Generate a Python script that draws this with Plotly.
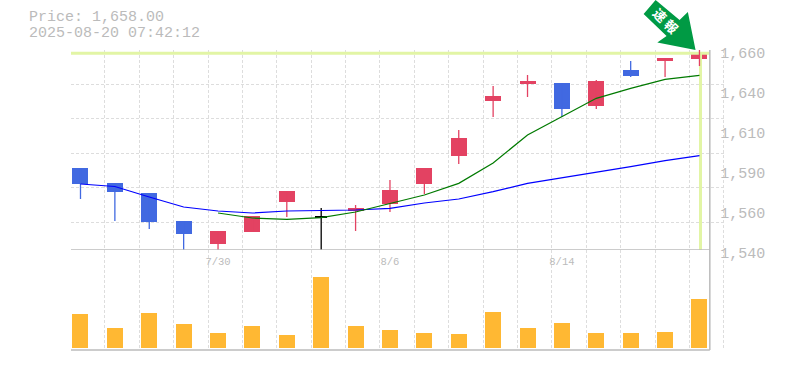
import plotly.graph_objects as go

dates = ["7/30", "8/6", "8/14"]
date_idx = [4, 9, 14]
price_ticks = [1660, 1636, 1612, 1588, 1564, 1540]
price_labels = ["1,660", "1,640", "1,610", "1,590", "1,560", "1,540"]
body_top = [1589.2, 1580.2, 1574.2, 1557.4, 1551.4, 1560.4, 1575.4, 1560.4, 1565.2, 1576.0, 1589.2, 1607.2, 1632.4, 1641.4, 1640.2, 1641.4, 1648.0, 1655.2, 1658.2]
body_bot = [1579.6, 1574.8, 1556.8, 1549.6, 1543.6, 1550.8, 1568.8, 1559.2, 1563.4, 1567.6, 1579.6, 1596.4, 1629.4, 1639.6, 1624.6, 1626.4, 1644.4, 1653.4, 1654.6]
wick_high = [1589.2, 1580.2, 1574.2, 1557.4, 1551.4, 1560.4, 1575.4, 1565.2, 1567.0, 1582.0, 1589.2, 1612.0, 1638.4, 1645.0, 1640.2, 1642.0, 1653.4, 1655.2, 1660.0]
wick_low = [1570.6, 1557.4, 1552.6, 1530.0, 1530.0, 1550.8, 1559.8, 1530.0, 1551.4, 1562.8, 1573.6, 1591.6, 1619.8, 1631.8, 1619.8, 1624.6, 1643.8, 1643.8, 1650.4]
is_up = [False, False, False, False, True, True, True, None, True, True, True, True, True, True, False, True, False, True, True]
ma_blue = [1579.6, 1578.1, 1571.8, 1565.8, 1563.4, 1562.2, 1563.4, 1563.7, 1564.0, 1565.0, 1568.2, 1570.6, 1575.0, 1580.0, 1583.2, 1586.4, 1590.0, 1593.6, 1596.6]
ma_green = [None, None, None, None, 1562.2, 1559.2, 1558.4, 1559.4, 1562.8, 1568.0, 1573.0, 1580.0, 1592.2, 1609.0, 1619.8, 1631.0, 1637.0, 1642.4, 1644.8]
volume = [34, 20, 35, 24, 15, 22, 13, 71, 22, 18, 15, 14, 36, 20, 25, 15, 15, 16, 49]
last_price = 1658.0
indices = list(range(len(volume)))

BLUE, RED, BLACK = "#4169E1", "#E34262", "#000000"
GRAY, GRID, LIME = "#BBBBBB", "#DDDDDD", "#E2F5A5"
ARROW = "#009A44"
FONT = "Liberation Mono"

PX = 34.44
X0 = -(80 - 70.5) / PX
XR = [X0, (725.5 - 80) / PX]
AXIS_RIGHT = (710.3 - 80) / PX
grid_x = [X0 - 0.5 / PX + k for k in range(20)]
YR = [1540, 1660]
grid_y = [1660 - 20.66 * k for k in range(6)]

L, R, T, B = 70.5, 725.5, 50, 350


def pxx(x):
    return (x - L) / (R - L)


def pxy(y):
    return (B - y) / (B - T)


fig = go.Figure()


def color_of(flag):
    return BLACK if flag is None else (RED if flag else BLUE)


fig.add_trace(go.Scatter(x=[X0, AXIS_RIGHT], y=[last_price, last_price], mode="lines",
                         line=dict(color=LIME, width=3), xaxis="x", yaxis="y", hoverinfo="skip"))
fig.add_trace(go.Scatter(x=[indices[-1] + 0.03, indices[-1] + 0.03], y=[last_price, YR[0]], mode="lines",
                         line=dict(color=LIME, width=3), xaxis="x", yaxis="y", hoverinfo="skip"))
for i in indices:
    fig.add_trace(go.Scatter(x=[i, i], y=[wick_low[i], wick_high[i]], mode="lines",
                             line=dict(color=color_of(is_up[i]), width=1.3), xaxis="x", yaxis="y",
                             hoverinfo="skip"))
fig.add_trace(go.Bar(x=indices, y=[t - b for t, b in zip(body_top, body_bot)], base=body_bot,
                     width=[0.35 if u is None else 0.465 for u in is_up],
                     marker=dict(color=[color_of(u) for u in is_up], line=dict(width=0)),
                     xaxis="x", yaxis="y"))
fig.add_trace(go.Scatter(x=indices, y=ma_blue, mode="lines", line=dict(color="#0000FF", width=1.2),
                         xaxis="x", yaxis="y"))
fig.add_trace(go.Scatter(x=indices, y=ma_green, mode="lines", line=dict(color="#007A00", width=1.2),
                         xaxis="x", yaxis="y"))
fig.add_trace(go.Bar(x=indices, y=volume, width=0.465, marker=dict(color="#FFB833", line=dict(width=0)),
                     xaxis="x2", yaxis="y2"))
# invisible carriers for the label-only axes
fig.add_trace(go.Scatter(x=[0], y=[1600], mode="markers", marker=dict(opacity=0), xaxis="x3", yaxis="y3", hoverinfo="skip"))
fig.add_trace(go.Scatter(x=[0], y=[1600], mode="markers", marker=dict(opacity=0), xaxis="x4", yaxis="y4", hoverinfo="skip"))

grid_axis = dict(range=XR, domain=[0, 1], tickmode="array", tickvals=grid_x, showticklabels=False,
                 ticks="", showgrid=True, gridcolor=GRID, griddash="3px,2px", zeroline=False, showline=False)
hidden = dict(showticklabels=False, ticks="", showgrid=False, zeroline=False, showline=False)

fig.update_layout(
    width=785, height=370, showlegend=False, plot_bgcolor="rgba(0,0,0,0)", paper_bgcolor="white",
    margin=dict(l=L, r=785 - R, t=T, b=370 - B),
    barmode="overlay", bargap=0,
    xaxis=dict(anchor="y", **grid_axis),
    xaxis2=dict(anchor="y2", **grid_axis),
    yaxis=dict(range=YR, domain=[1 / 3, 1], anchor="x", tickmode="array", tickvals=grid_y,
               showticklabels=False, ticks="", showgrid=True, gridcolor=GRID, griddash="3px,2px",
               zeroline=False, showline=False),
    yaxis2=dict(range=[-2, 98], domain=[0, 1 / 3], anchor="x2", **hidden),
    # price labels sit 3 px below their true level and start at x=720 in the reference
    xaxis3=dict(range=XR, domain=[0, pxx(719.8)], anchor="y3", **hidden),
    yaxis3=dict(range=[1661.8 - 0.6 * 300, 1661.8], domain=[0, 1], anchor="x3", side="right",
                tickmode="array", tickvals=price_ticks, ticktext=price_labels, showgrid=False,
                zeroline=False, showline=False, ticks="",
                tickfont=dict(family=FONT, size=15, color=GRAY)),
    xaxis4=dict(range=XR, domain=[0, 1], anchor="y4", side="bottom", tickmode="array",
                tickvals=date_idx, ticktext=dates, showgrid=False, zeroline=False, showline=False,
                ticks="outside", ticklen=1, tickcolor="rgba(0,0,0,0)",
                tickfont=dict(family=FONT, size=10.5, color=GRAY)),
    yaxis4=dict(range=YR, domain=[1 / 3, 1], anchor="x4", **hidden),
    font=dict(family=FONT, color=GRAY),
    shapes=[
        dict(type="line", xref="x", yref="paper", x0=AXIS_RIGHT, x1=AXIS_RIGHT, y0=0, y1=1,
             line=dict(color=GRAY, width=1.5), layer="above"),
        dict(type="line", xref="x", yref="y", x0=X0, x1=AXIS_RIGHT, y0=YR[0], y1=YR[0],
             line=dict(color=GRAY, width=1.5), layer="above"),
        dict(type="line", xref="x", yref="paper", x0=X0, x1=AXIS_RIGHT, y0=0, y1=0,
             line=dict(color=GRAY, width=1.5), layer="above"),
        dict(type="path", xref="paper", yref="paper", fillcolor=ARROW, line=dict(width=0), layer="above",
             path="M {} {} L {} {} L {} {} L {} {} L {} {} L {} {} L {} {} Z".format(
                 pxx(656), pxy(0), pxx(680), pxy(20), pxx(688.3), pxy(12), pxx(696), pxy(50),
                 pxx(657.7), pxy(42.5), pxx(667), pxy(36), pxx(644), pxy(14))),
    ],
    annotations=[
        dict(text="Price: 1,658.00", xref="paper", yref="paper", x=pxx(27.5), y=pxy(18),
             xanchor="left", yanchor="middle", showarrow=False, borderpad=0,
             font=dict(family=FONT, size=15, color=GRAY)),
        dict(text="2025-08-20 07:42:12", xref="paper", yref="paper", x=pxx(27.5), y=pxy(33),
             xanchor="left", yanchor="middle", showarrow=False, borderpad=0,
             font=dict(family=FONT, size=15, color=GRAY)),
        dict(text="速 報", xref="paper", yref="paper", x=pxx(666), y=pxy(21), textangle=45,
             xanchor="center", yanchor="middle", showarrow=False,
             font=dict(family="Noto Sans CJK JP", size=13, color="white", weight="bold")),
    ],
)
fig.write_html("out.html", config=dict(displayModeBar=False),
               post_script="document.body.style.margin='0';document.body.style.overflow='hidden';")
